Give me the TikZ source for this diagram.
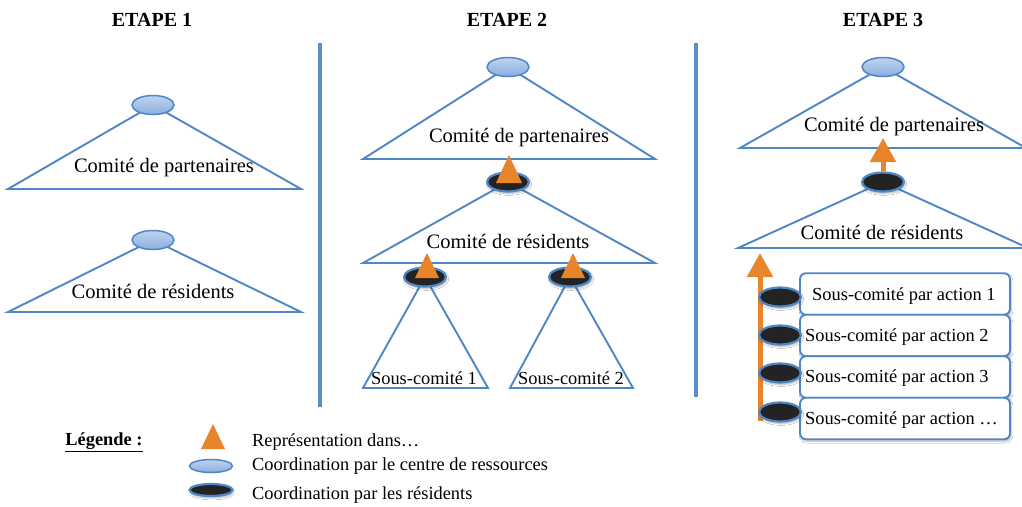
\documentclass[tikz,border=0pt]{standalone}
\usepackage{fontspec}
\setmainfont{Liberation Serif}
\usetikzlibrary{shapes.geometric,arrows.meta,shadows.blur}
\definecolor{lineblue}{HTML}{4F86C6}
\definecolor{sepblue}{HTML}{5B8FCB}
\definecolor{lightblue}{HTML}{8AAFE0}
\definecolor{darkfill}{HTML}{232323}
\definecolor{orangeA}{HTML}{E8842A}
\tikzset{
  tri/.style={draw=lineblue, line width=1.9pt, line join=miter},
  lightell/.style={ellipse, draw=lineblue, line width=1.5pt, top color=lightblue!55!white, bottom color=lightblue, minimum width=42pt, minimum height=19pt, inner sep=0pt},
  darkell/.style={ellipse, draw=lineblue, line width=2.2pt, fill=darkfill, minimum width=42pt, minimum height=19pt, inner sep=0pt, blur shadow={shadow xshift=1pt, shadow yshift=-2pt, shadow blur steps=5, shadow opacity=30}},
  bigtxt/.style={font=\fontsize{20.5}{24}\selectfont, inner sep=0pt},
  smalltxt/.style={font=\fontsize{18.4}{22}\selectfont, inner sep=0pt},
  title/.style={font=\fontsize{20}{24}\selectfont\bfseries, inner sep=0pt},
  sep/.style={draw=sepblue, line width=4.8pt},
  repr/.style={fill=orangeA, draw=none},
  uparrow/.style={draw=orangeA, line width=5pt, -{Triangle[width=25pt,length=24pt]}},
  actbox/.style={draw=lineblue, line width=1.9pt, rounded corners=6pt, fill=white, minimum width=210pt, minimum height=41.5pt, inner sep=0pt, blur shadow={shadow xshift=1pt, shadow yshift=-2pt, shadow blur steps=5, shadow opacity=30}},
}
\begin{document}
\begin{tikzpicture}[x=1pt,y=-1pt]
\useasboundingbox (0,0) rectangle (1022,506);
\fill[white] (0,0) rectangle (1022,506);

% titles
\node[title] (t1) at (152,20) {ETAPE 1};
\node[title] (t2) at (507,20) {ETAPE 2};
\node[title] (t3) at (883,20) {ETAPE 3};

% separators
\coordinate (s1a) at (320,43); \coordinate (s1b) at (320,407);
\coordinate (s2a) at (696,43); \coordinate (s2b) at (696,397);
\draw[sep] (s1a) -- (s1b);
\draw[sep] (s2a) -- (s2b);

% ---------------- ETAPE 1
\coordinate (e1pA) at (153,105); \coordinate (e1pL) at (8,189); \coordinate (e1pR) at (301,189);
\draw[tri] (e1pA) -- (e1pR) -- (e1pL) -- cycle;
\node[lightell] (e1p) at (e1pA) {};
\node[bigtxt] (e1pt) at (164,168) {Comité de partenaires};

\coordinate (e1rA) at (153,240); \coordinate (e1rL) at (8,312); \coordinate (e1rR) at (301,312);
\draw[tri] (e1rA) -- (e1rR) -- (e1rL) -- cycle;
\node[lightell] (e1r) at (e1rA) {};
\node[bigtxt] (e1rt) at (153,291) {Comité de résidents};

% ---------------- ETAPE 2
\coordinate (e2pA) at (508,67); \coordinate (e2pL) at (363,159); \coordinate (e2pR) at (655,159);
\draw[tri] (e2pA) -- (e2pR) -- (e2pL) -- cycle;
\node[lightell] (e2p) at (e2pA) {};
\node[bigtxt] (e2pt) at (519,138) {Comité de partenaires};

\coordinate (e2rA) at (508,182); \coordinate (e2rL) at (363,263); \coordinate (e2rR) at (655,263);
\draw[tri] (e2rA) -- (e2rR) -- (e2rL) -- cycle;
\node[bigtxt] (e2rt) at (508,241) {Comité de résidents};

\coordinate (e2s1A) at (425,277); \coordinate (e2s1L) at (363,388); \coordinate (e2s1R) at (488,388);
\draw[tri] (e2s1A) -- (e2s1R) -- (e2s1L) -- cycle;
\node[smalltxt] (e2s1t) at (424,378) {Sous-comité 1};

\coordinate (e2s2A) at (570,277); \coordinate (e2s2L) at (510,388); \coordinate (e2s2R) at (633,388);
\draw[tri] (e2s2A) -- (e2s2R) -- (e2s2L) -- cycle;
\node[smalltxt] (e2s2t) at (571,378) {Sous-comité 2};

\node[darkell] (e2r) at (e2rA) {};
\node[darkell] (e2s1) at (e2s1A) {};
\node[darkell] (e2s2) at (e2s2A) {};

\fill[repr] (509,155) -- (522,183) -- (496,183) -- cycle;
\fill[repr] (427,253) -- (439,278) -- (415,278) -- cycle;
\fill[repr] (573,253) -- (585,278) -- (561,278) -- cycle;

% ---------------- ETAPE 3
\begin{scope}
\clip (697,0) rectangle (1022,506);
\coordinate (e3pA) at (883,67); \coordinate (e3pL) at (740,148); \coordinate (e3pR) at (1026,148);
\draw[tri] (e3pA) -- (e3pR) -- (e3pL) -- cycle;
\coordinate (e3rA) at (883,182); \coordinate (e3rL) at (738,248); \coordinate (e3rR) at (1028,248);
\draw[tri] (e3rA) -- (e3rR) -- (e3rL) -- cycle;
\end{scope}
\node[lightell] (e3p) at (e3pA) {};
\node[bigtxt] (e3pt) at (894,127) {Comité de partenaires};
\node[bigtxt] (e3rt) at (882,232) {Comité de résidents};

\node[darkell] (e3r) at (e3rA) {};
\coordinate (e3tip) at (883,138);
\draw[uparrow] (e3r.north) -- (e3tip);

\coordinate (e3vb) at (760,421); \coordinate (e3vt) at (760,253);
\draw[uparrow] (e3vb) -- (e3vt);

\node[actbox] (b1) at (905,294) {};
\node[actbox] (b2) at (905,335.5) {};
\node[actbox] (b3) at (905,377) {};
\node[actbox] (b4) at (905,418.5) {};
\node[smalltxt, anchor=west] (b1t) at (812,296) {Sous-comité par action 1};
\node[smalltxt, anchor=west] (b2t) at (805,337) {Sous-comité par action 2};
\node[smalltxt, anchor=west] (b3t) at (805,378) {Sous-comité par action 3};
\node[smalltxt, anchor=west] (b4t) at (805,420) {Sous-comité par action \dots};

\node[darkell] (d1) at (780,297) {};
\node[darkell] (d2) at (780,335) {};
\node[darkell] (d3) at (780,373) {};
\node[darkell] (d4) at (780,412) {};

% ---------------- Legend
\node[smalltxt, font=\fontsize{18.4}{22}\selectfont\bfseries] (leg) at (104,442) {\underline{Légende :}};
\fill[repr] (213,424) -- (225,449) -- (201,449) -- cycle;
\node[lightell, minimum height=13pt, minimum width=43pt] (legl) at (211,466) {};
\node[darkell, minimum height=12pt, minimum width=43pt] (legd) at (211,490) {};
\node[smalltxt, anchor=west] (leg1) at (252,442) {Représentation dans\dots};
\node[smalltxt, anchor=west] (leg2) at (252,466) {Coordination par le centre de ressources};
\node[smalltxt, anchor=west] (leg3) at (252,495) {Coordination par les résidents};
\end{tikzpicture}
\end{document}
